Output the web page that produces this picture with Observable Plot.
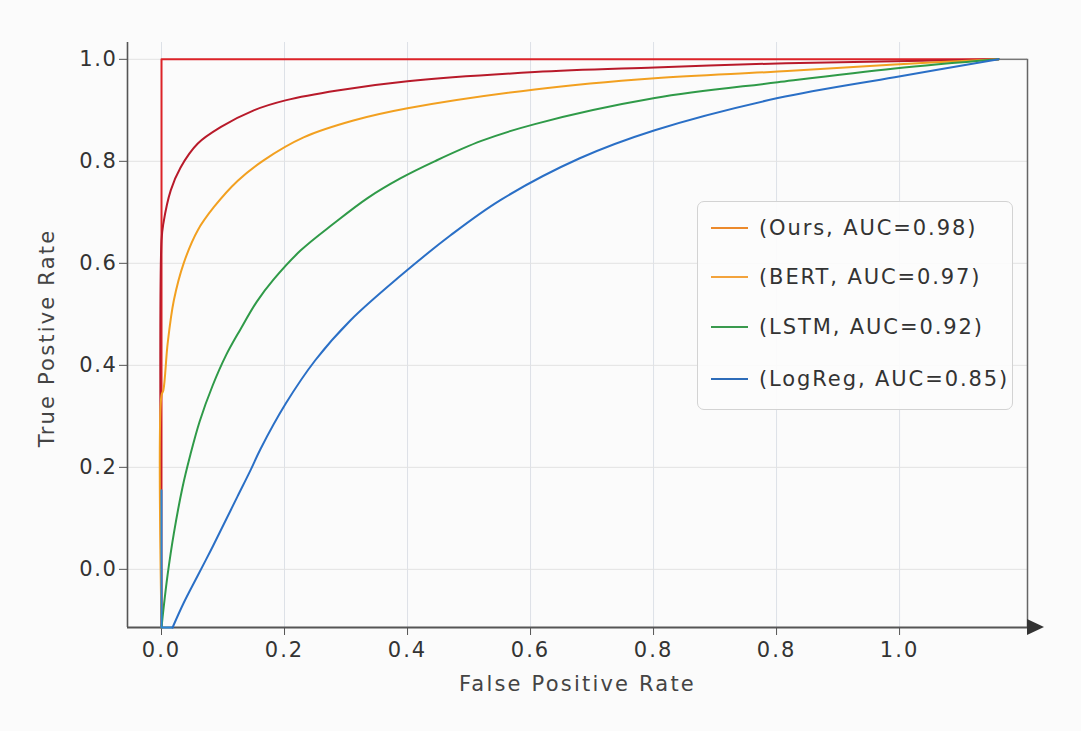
<!DOCTYPE html>
<html>
<head>
<meta charset="utf-8">
<script src="https://cdn.jsdelivr.net/npm/d3@7"></script>
<script src="https://cdn.jsdelivr.net/npm/@observablehq/plot@0.6"></script>
<style>
  html, body { margin: 0; padding: 0; background: #fbfbfb; }
  #wrap { position: relative; width: 1081px; height: 731px; font-family: "DejaVu Sans", sans-serif; }
  #legend { position: absolute; left: 697px; top: 201px; width: 314px; height: 207px;
            border: 1px solid #d3d3d3; border-radius: 7px; background: rgba(252,252,252,0.92); }
  .entry { position: absolute; left: 13px; height: 30px; display: flex; align-items: center; }
  .swatch { width: 37px; height: 0; border-top: 2px solid; margin-right: 11px; }
  .lbl { font-size: 21px; letter-spacing: 1.9px; color: #333; white-space: nowrap; }
</style>
</head>
<body>
<div id="wrap"><div id="legend"></div></div>
<script>
// ---- tick labels ----
const xTickPos = [0, 0.2, 0.4, 0.6, 0.8, 1.0, 1.2];
const xTickLabels = ["0.0", "0.2", "0.4", "0.6", "0.8", "0.8", "1.0"];
const yTickPos = [0, 0.2, 0.4, 0.6, 0.8, 1.0];

// ---- series (values read in axis coordinates) ----
const stepX = [0, 0, 1.361];
const stepY = [-0.114, 1.0, 1.0];

const oursX = [0, 0, 0.003, 0.015, 0.031, 0.059, 0.096, 0.150, 0.203, 0.286, 0.400, 0.607, 0.802, 1.002, 1.192, 1.361];
const oursY = [-0.114, 0.645, 0.678, 0.743, 0.788, 0.835, 0.867, 0.900, 0.920, 0.939, 0.957, 0.975, 0.984, 0.992, 0.996, 1.0];

const bertX = [0, 0, 0.003, 0.010, 0.020, 0.036, 0.059, 0.085, 0.124, 0.166, 0.231, 0.312, 0.400, 0.607, 0.802, 1.002, 1.192, 1.361];
const bertY = [-0.114, 0.341, 0.351, 0.443, 0.527, 0.600, 0.665, 0.710, 0.762, 0.802, 0.847, 0.880, 0.904, 0.941, 0.963, 0.976, 0.990, 1.0];

const lstmX = [0, 0.003, 0.010, 0.020, 0.034, 0.047, 0.062, 0.083, 0.105, 0.128, 0.155, 0.182, 0.226, 0.280, 0.335, 0.389, 0.444, 0.520, 0.607, 0.802, 1.002, 1.192, 1.361];
const lstmY = [-0.114, -0.080, -0.010, 0.070, 0.160, 0.225, 0.290, 0.360, 0.420, 0.470, 0.525, 0.568, 0.625, 0.678, 0.728, 0.767, 0.800, 0.840, 0.873, 0.924, 0.955, 0.982, 1.0];

const logregStubX = [0, 0, 0.018];
const logregStubY = [0.155, -0.114, -0.114];
const logregX = [0.018, 0.036, 0.059, 0.080, 0.101, 0.124, 0.145, 0.161, 0.202, 0.250, 0.307, 0.389, 0.470, 0.551, 0.680, 0.802, 1.002, 1.192, 1.361];
const logregY = [-0.114, -0.066, -0.012, 0.037, 0.088, 0.144, 0.195, 0.236, 0.325, 0.410, 0.488, 0.576, 0.655, 0.724, 0.806, 0.861, 0.924, 0.965, 1.0];

const legendLabels = ["(Ours, AUC=0.98)", "(BERT, AUC=0.97)", "(LSTM, AUC=0.92)", "(LogReg, AUC=0.85)"];
const legendColors = ["#ec8a2c", "#f3a33c", "#3a9a4e", "#2d6cb9"];

const toRows = (xs, ys) => xs.map((x, i) => ({x, y: ys[i]}));

const xDomain = [-0.0553, 1.408];
const yDomain = [-0.114, 1.033];
const xEnd = stepX[stepX.length - 1];

const smooth = {x: "x", y: "y", strokeWidth: 2, curve: "catmull-rom"};
const straight = {x: "x", y: "y", strokeWidth: 2, curve: "linear"};

const plot = Plot.plot({
  width: 1081,
  height: 731,
  marginLeft: 127,
  marginRight: 54,
  marginTop: 42,
  marginBottom: 104,
  style: {fontFamily: "DejaVu Sans, sans-serif", background: "transparent", color: "#333", overflow: "visible"},
  x: {domain: xDomain},
  y: {domain: yDomain},
  marks: [
    Plot.gridX(xTickPos, {stroke: "#dde1e7", strokeOpacity: 1, strokeWidth: 1}),
    Plot.gridY(yTickPos, {stroke: "#e2e2e2", strokeOpacity: 1, strokeWidth: 1}),
    Plot.axisX(xTickPos, {tickFormat: d => xTickLabels[xTickPos.indexOf(d)], fontSize: 21, tickSize: 8, tickPadding: 7, stroke: "#555", label: null, fill: "#333"}),
    Plot.axisY(yTickPos, {tickFormat: d => d.toFixed(1), fontSize: 21, tickSize: 8, tickPadding: 2, stroke: "#555", label: null, fill: "#333"}),
    Plot.ruleX([xDomain[0]], {stroke: "#555", strokeWidth: 1.6}),
    Plot.ruleX([xDomain[1]], {y1: 1.0, y2: yDomain[0], stroke: "#666", strokeWidth: 1.5}),
    Plot.ruleY([1.0], {x1: xEnd, x2: xDomain[1], stroke: "#777", strokeWidth: 1.5}),
    Plot.ruleY([yDomain[0]], {x1: xDomain[0], x2: xDomain[1], stroke: "#555", strokeWidth: 1.8}),
    Plot.line(toRows(stepX, stepY), {...straight, stroke: "#dc2328"}),
    Plot.line(toRows(oursX, oursY), {...smooth, stroke: "#b81a2a"}),
    Plot.line(toRows(bertX, bertY), {...smooth, stroke: "#f2a020"}),
    Plot.line(toRows(lstmX, lstmY), {...smooth, stroke: "#2f9a48"}),
    Plot.line(toRows(logregStubX, logregStubY), {...straight, stroke: "#2a86d6"}),
    Plot.line(toRows(logregX, logregY), {...smooth, stroke: "#2a6fc6"}),
    Plot.text(["False Positive Rate"], {frameAnchor: "bottom", dy: 63, fontSize: 21, fill: "#444"}),
    Plot.text(["True Postive Rate"], {frameAnchor: "left", textAnchor: "middle", dx: -80, dy: 3, rotate: -90, fontSize: 21, fill: "#444"})
  ]
});

// widen the lettering like the reference
const svg = d3.select(plot);
svg.selectAll('g[aria-label="x-axis tick label"] text').style("letter-spacing", "2px");
svg.selectAll('g[aria-label="y-axis tick label"] text').style("letter-spacing", "1.6px");
svg.selectAll('g[aria-label="text"] text').style("letter-spacing", "2.2px");

// filled arrowhead at the end of the x spine
const sx = plot.scale("x"), sy = plot.scale("y");
const ax = sx.apply(xDomain[1]), ay = sy.apply(yDomain[0]);
svg.append("path")
  .attr("d", `M${ax},${ay - 8}L${ax + 17},${ay}L${ax},${ay + 8}Z`)
  .attr("fill", "#333");

document.getElementById("wrap").prepend(plot);

// legend
const legend = document.getElementById("legend");
const entryTops = [11, 60, 110, 162];
legendLabels.forEach((lab, i) => {
  const e = document.createElement("div");
  e.className = "entry";
  e.style.top = entryTops[i] + "px";
  e.innerHTML = `<div class="swatch" style="border-color:${legendColors[i]}"></div><div class="lbl">${lab}</div>`;
  legend.appendChild(e);
});
</script>
</body>
</html>
